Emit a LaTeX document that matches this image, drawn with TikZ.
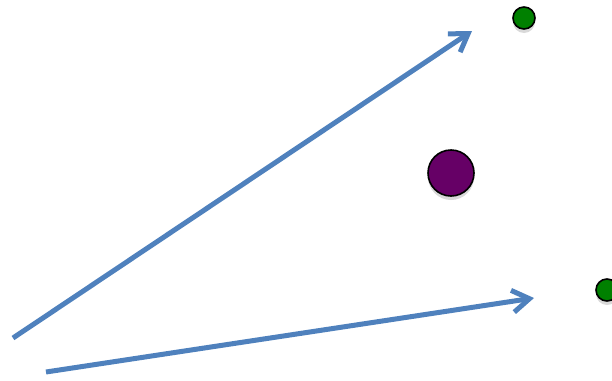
\documentclass[tikz,border=0pt]{standalone}
\usetikzlibrary{arrows.meta,shadows}
\definecolor{arrowblue}{HTML}{4F81BD}
\definecolor{dotgreen}{HTML}{008000}
\definecolor{dotpurple}{HTML}{660066}
\tikzset{
  vec/.style={draw=arrowblue, line width=5pt, -{Straight Barb[length=17pt,width=22pt]}},
  dot/.style={circle, draw=black, line width=1.6pt, inner sep=0pt,
    drop shadow={shadow xshift=0pt, shadow yshift=-4pt, opacity=0.25, fill=black!60}},
  smalldot/.style={dot, fill=dotgreen, minimum size=22pt},
  bigdot/.style={dot, fill=dotpurple, minimum size=46pt}
}
\begin{document}
\begin{tikzpicture}[x=1pt,y=-1pt]
\useasboundingbox (0,0) rectangle (612,380);
\clip (0,0) rectangle (612,380);
\node[smalldot] (g1) at (524,18) {};
\node[bigdot] (p) at (451,173) {};
\node[smalldot] (g2) at (607,290) {};
\coordinate (a1s) at (13,338);
\coordinate (a1e) at (472,31);
\coordinate (a2s) at (46,372);
\coordinate (a2e) at (534,298);
\draw[vec] (a1s) -- (a1e);
\draw[vec] (a2s) -- (a2e);
\end{tikzpicture}
\end{document}
